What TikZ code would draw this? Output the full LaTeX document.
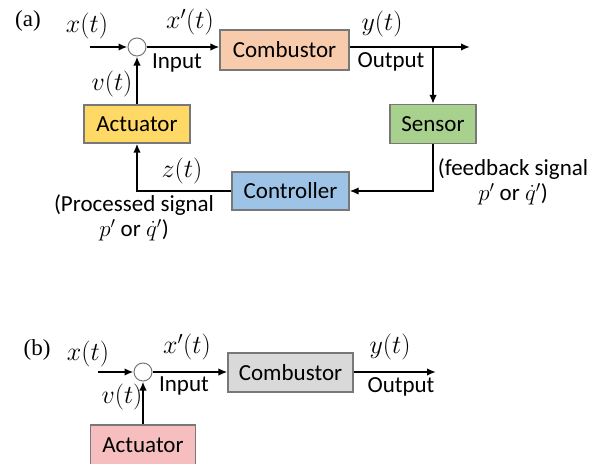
\RequirePackage{fix-cm}
\documentclass[tikz,border=0pt]{standalone}
\usepackage{fontspec}
\setmainfont{Carlito}
\newfontfamily\panelfont{Liberation Serif}
\usepackage{tikz}
\usetikzlibrary{arrows.meta}
\definecolor{combpeach}{RGB}{248,203,173}
\definecolor{combgray}{RGB}{217,217,217}
\definecolor{actyellow}{RGB}{255,217,102}
\definecolor{actpink}{RGB}{246,190,190}
\definecolor{sensgreen}{RGB}{169,209,142}
\definecolor{ctrlblue}{RGB}{157,195,230}
\definecolor{boxgray}{RGB}{120,120,120}

\begin{document}
\begin{tikzpicture}[x=1pt, y=-1pt, font=\fontsize{23}{25}\selectfont,
  blk/.style={draw=boxgray, line width=1.2pt, inner sep=0pt},
  sum/.style={circle, draw=boxgray, line width=1pt, fill=white, minimum size=18pt, inner sep=0pt},
  sig/.style={line width=2.2pt, -{Latex[length=9pt,width=7.5pt]}},
  mathlbl/.style={font=\fontsize{26}{26}\selectfont, inner sep=1pt}]
\useasboundingbox (0,0) rectangle (599,463);
\clip (0,0) rectangle (599,463);

% (a) loop: Combustor -> Sensor -> Controller -> Actuator -> input
\node[font=\fontsize{23}{23}\selectfont\panelfont] (tagA) at (28,21) {(a)};
\node[sum] (sumA) at (137,47) {};
\node[blk, fill=combpeach, minimum width=129pt, minimum height=40pt] (combA) at (284.5,50) {Combustor};
\node[blk, fill=actyellow, minimum width=106pt, minimum height=38pt] (actA) at (137,124) {Actuator};
\node[blk, fill=sensgreen, minimum width=86pt, minimum height=39pt] (sensA) at (433,124) {Sensor};
\node[blk, fill=ctrlblue, minimum width=117pt, minimum height=38pt] (ctrlA) at (290.5,191) {Controller};
\coordinate (inA) at (90,47);
\coordinate (outA) at (470,47);
\coordinate (tapA) at (433,47);

\draw[sig] (inA) -- (sumA.west);
\draw[sig] (sumA.east) -- (sumA -| combA.west);
\draw[sig] (sumA -| combA.east) -- (outA);
\draw[sig] (tapA) -- (sensA.north);
\draw[sig] (sensA.south) |- (ctrlA.east);
\draw[sig] (ctrlA.west) -| (actA.south);
\draw[sig] (actA.north) -- (sumA.south);

% signal labels
\node[mathlbl] (xA) at (87,26) {$x(t)$};
\node[mathlbl] (xpA) at (190,22) {$x'(t)$};
\node[inner sep=1pt] (inLblA) at (177,63) {Input};
\node[mathlbl] (vA) at (112,84) {$v(t)$};
\node[mathlbl] (zA) at (182,171) {$z(t)$};
\node[align=center, inner sep=1pt] (procA) at (134,218) {(Processed signal\\$p'$ or $\dot{q}'$)};
\node[mathlbl] (yA) at (382,24) {$y(t)$};
\node[inner sep=1pt] (outLblA) at (391,62) {Output};
\node[align=center, inner sep=1pt] (fbA) at (513,182) {(feedback signal\\$p'$ or $\dot{q}'$)};

% (b) open loop
\node[font=\fontsize{23}{23}\selectfont\panelfont] (tagB) at (37,350) {(b)};
\node[sum] (sumB) at (143,372) {};
\node[blk, fill=combgray, minimum width=125pt, minimum height=39pt] (combB) at (290.5,372.5) {Combustor};
\node[blk, fill=actpink, minimum width=105pt, minimum height=40pt] (actB) at (143,445) {Actuator};
\coordinate (inB) at (98,372);
\coordinate (outB) at (436,372);

\draw[sig] (inB) -- (sumB.west);
\draw[sig] (sumB.east) -- (sumB -| combB.west);
\draw[sig] (sumB -| combB.east) -- (outB);
\draw[sig] (actB.north) -- (sumB.south);

\node[mathlbl] (xB) at (88,354) {$x(t)$};
\node[mathlbl] (xpB) at (187,347) {$x'(t)$};
\node[inner sep=1pt] (inLblB) at (184,386) {Input};
\node[mathlbl] (vB) at (122,397) {$v(t)$};
\node[mathlbl] (yB) at (390,347) {$y(t)$};
\node[inner sep=1pt] (outLblB) at (401,387) {Output};
\end{tikzpicture}
\end{document}
